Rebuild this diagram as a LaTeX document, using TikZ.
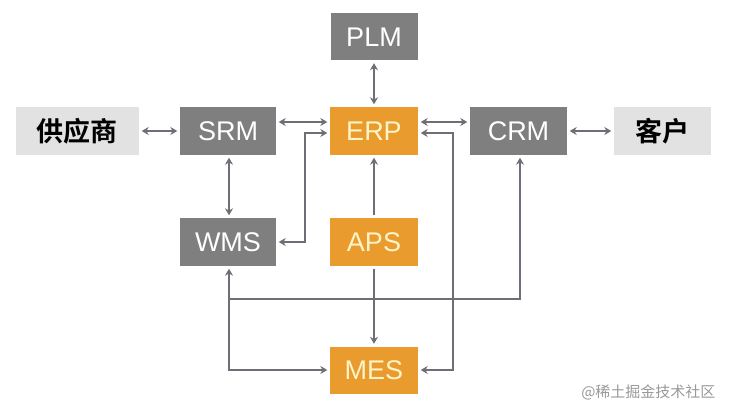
\documentclass[tikz,border=0pt]{standalone}
\usepackage{fontspec}
\setmainfont{Liberation Sans}
\newfontfamily\cjk{Noto Sans CJK SC}[BoldFont=* Bold]
\usetikzlibrary{arrows.meta}
\definecolor{boxgray}{HTML}{7F7F7F}
\definecolor{boxorange}{HTML}{E99B2D}
\definecolor{boxlight}{HTML}{E2E2E2}
\definecolor{linegray}{HTML}{6E6E76}
\definecolor{txtcream}{HTML}{FFF4C8}
\tikzset{
  sysbox/.style={minimum width=96pt, minimum height=48pt, inner sep=0pt, fill=boxgray, text=white, font=\fontsize{27}{27}\selectfont},
  corebox/.style={minimum width=88pt, minimum height=48pt, inner sep=0pt, fill=boxorange, text=txtcream, font=\fontsize{27}{27}\selectfont},
  extbox/.style={minimum width=97pt, minimum height=48pt, inner sep=0pt, fill=boxlight, text=black, font=\cjk\bfseries\fontsize{27}{27}\selectfont},
  conn/.style={draw=linegray, line width=1.6pt, shorten >=2.5pt, shorten <=2.5pt},
  tip/.style={arrows={-Stealth[length=7pt,width=8pt]}},
  tips/.style={arrows={Stealth[length=7pt,width=8pt]-Stealth[length=7pt,width=8pt]}},
}
\begin{document}
\begin{tikzpicture}[x=1pt,y=-1pt]
\useasboundingbox[fill=white] (0,0) rectangle (732,412);
\node[extbox, minimum width=123pt] (sup) at (77.5,131) {供应商};
\node[sysbox] (srm) at (228,131) {SRM};
\node[corebox] (erp) at (374,131) {ERP};
\node[sysbox, minimum width=87pt, minimum height=47pt] (plm) at (374,37) {PLM};
\node[sysbox, minimum width=97pt] (crm) at (518.5,131) {CRM};
\node[extbox] (cus) at (662.5,131) {客户};
\node[sysbox] (wms) at (228,242) {WMS};
\node[corebox] (aps) at (374,242) {APS};
\node[corebox, minimum height=47pt] (mes) at (374,370) {MES};
\coordinate (j) at (229,299);
\node[font=\cjk\fontsize{15}{15}\selectfont, text=black!40, anchor=east] (wm) at (719,392) {@稀土掘金技术社区};

\draw[conn,tips] (sup.east) -- (srm.west);
\draw[conn,tips] ([yshift=9pt]srm.east) -- ([yshift=9pt]erp.west);
\draw[conn,tips] ([yshift=9pt]erp.east) -- ([yshift=9pt]crm.west);
\draw[conn,tips] (crm.east) -- (cus.west);
\draw[conn,tips] (plm.south) -- (erp.north);
\draw[conn,tips] ([xshift=1pt]srm.south) -- ([xshift=1pt]wms.north);
\draw[conn,tip] (aps.north) -- (erp.south);
\draw[conn,tip] (aps.south) -- (mes.north);
\draw[conn,tips] (wms.east) -- ++(29,0) |- ([yshift=-2pt]erp.west);
\draw[conn,tips] ([yshift=-2pt]erp.east) -- ++(35,0) |- (mes.east);
\draw[conn,tips] ([xshift=1pt]wms.south) |- (mes.west);
\draw[conn,tip,shorten <=0pt] (j) -| ([xshift=1.5pt]crm.south);
\end{tikzpicture}
\end{document}
